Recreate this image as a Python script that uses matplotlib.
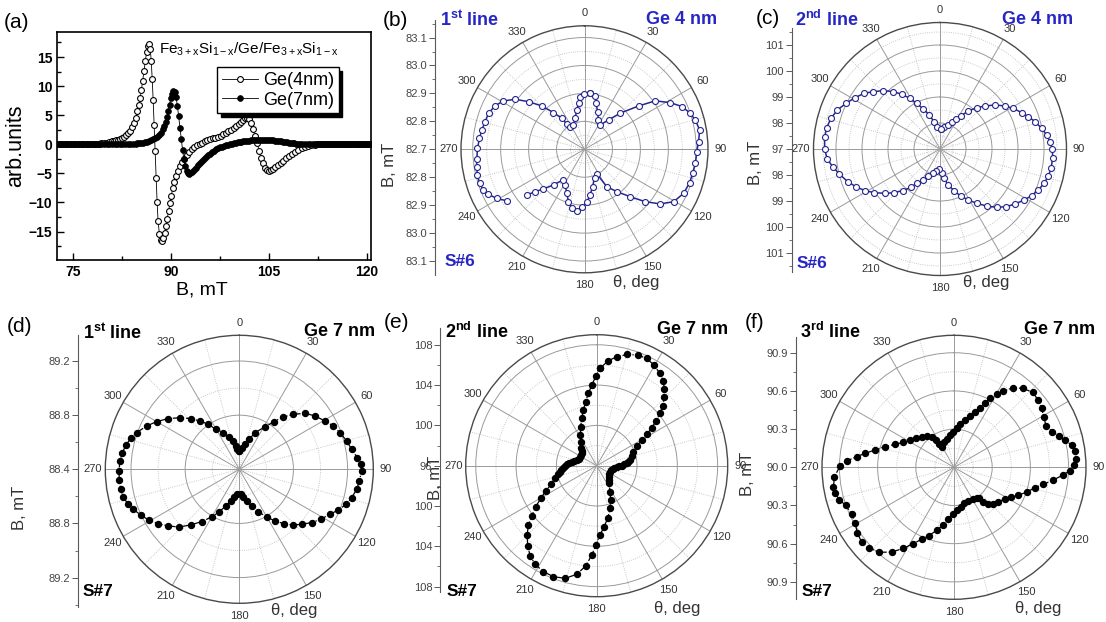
import numpy as np
import matplotlib
matplotlib.use('Agg')
import matplotlib.pyplot as plt
from matplotlib.ticker import MultipleLocator, FuncFormatter

plt.rcParams['font.family'] = ['Liberation Sans', 'DejaVu Sans']
plt.rcParams['mathtext.fontset'] = 'custom'
plt.rcParams['mathtext.rm'] = 'Liberation Sans'
plt.rcParams['mathtext.it'] = 'Liberation Sans:italic'
plt.rcParams['mathtext.bf'] = 'Liberation Sans:bold'

W, H = 1106, 622
BLUE_TXT = '#2626c6'
BLUE_SYM = '#25258e'

# ---- (a) FMR spectra: (B, mT ; signal, arb. units)
spectrum_4nm = [
    (72.6, 0), (73.0, 0), (73.4, 0), (73.8, 0), (74.2, 0), (74.6, 0), (75.0, 0), (75.4, 0),
    (75.8, 0), (76.2, 0), (76.6, 0), (77.0, 0), (77.4, 0), (77.8, 0.05), (78.2, 0.05),
    (78.6, 0.1), (79.0, 0.1), (79.4, 0.15), (79.8, 0.25), (80.2, 0.3), (80.6, 0.4),
    (81.0, 0.5), (81.3, 0.6), (81.6, 0.7), (81.9, 0.8), (82.2, 0.95), (82.5, 1.1),
    (82.8, 1.3), (83.1, 1.6), (83.4, 1.9), (83.7, 2.3), (84.0, 2.9), (84.3, 3.6),
    (84.6, 4.5), (84.9, 5.7), (85.1, 6.7), (85.3, 7.9), (85.5, 9.3), (85.7, 10.9),
    (85.9, 12.6), (86.1, 14.3), (86.3, 15.8), (86.5, 16.9), (86.7, 17.2), (86.85, 16.4),
    (87.0, 14.4), (87.15, 11.3), (87.3, 7.6), (87.45, 3.3), (87.6, -1.2), (87.75, -5.8),
    (87.9, -9.9), (88.05, -13.2), (88.25, -15.4), (88.45, -16.4), (88.65, -16.6),
    (88.85, -16.1), (89.05, -15.2), (89.25, -14.1), (89.45, -12.8), (89.65, -11.4),
    (89.85, -10.1), (90.05, -8.9), (90.3, -7.6), (90.55, -6.5), (90.8, -5.5), (91.1, -4.6),
    (91.4, -3.8), (91.7, -3.1), (92.0, -2.5), (92.4, -1.9), (92.8, -1.4), (93.2, -0.9),
    (93.6, -0.5), (94.0, -0.2), (94.4, 0.1), (94.8, 0.3), (95.2, 0.5), (95.6, 0.7),
    (96.0, 0.85), (96.4, 1.0), (96.8, 1.15), (97.2, 1.3), (97.6, 1.5), (98.0, 1.7),
    (98.4, 1.95), (98.8, 2.2), (99.2, 2.5), (99.6, 2.8), (100.0, 3.15), (100.4, 3.5),
    (100.8, 3.9), (101.1, 4.2), (101.4, 4.45), (101.7, 4.55), (102.0, 4.35), (102.3, 3.7),
    (102.6, 2.7), (102.9, 1.5), (103.2, 0.2), (103.5, -1.1), (103.8, -2.3), (104.1, -3.3),
    (104.4, -4.0), (104.7, -4.4), (105.0, -4.55), (105.3, -4.5), (105.6, -4.3),
    (106.0, -3.95), (106.4, -3.6), (106.8, -3.2), (107.2, -2.8), (107.6, -2.4),
    (108.0, -2.05), (108.5, -1.65), (109.0, -1.3), (109.5, -1.0), (110.0, -0.7),
    (110.5, -0.5), (111.0, -0.3), (111.5, -0.15), (112.0, -0.05), (112.4, 0), (112.8, 0),
    (113.2, 0), (113.6, 0), (114.0, 0), (114.4, 0), (114.8, 0), (115.2, 0), (115.6, 0),
    (116.0, 0), (116.4, 0), (116.8, 0), (117.2, 0), (117.6, 0), (118.0, 0), (118.4, 0),
    (118.8, 0), (119.2, 0), (119.6, 0), (120.0, 0), (120.4, 0),
]

spectrum_7nm = [
    (72.6, 0), (73.0, 0), (73.4, 0), (73.8, 0), (74.2, 0), (74.6, 0), (75.0, 0), (75.4, 0),
    (75.8, 0), (76.2, 0), (76.6, 0), (77.0, 0), (77.4, 0), (77.8, 0), (78.2, 0), (78.6, 0),
    (79.0, 0), (79.4, 0), (79.8, 0), (80.2, 0), (80.6, 0), (81.0, 0), (81.4, 0), (81.8, 0),
    (82.2, 0), (82.6, 0), (83.0, 0), (83.4, 0), (83.8, 0), (84.2, 0.05), (84.6, 0.1),
    (84.9, 0.15), (85.2, 0.2), (85.5, 0.25), (85.8, 0.3), (86.1, 0.35), (86.4, 0.45),
    (86.7, 0.55), (87.0, 0.7), (87.3, 0.85), (87.6, 1.05), (87.9, 1.3), (88.2, 1.6),
    (88.5, 2.0), (88.8, 2.6), (89.0, 3.1), (89.2, 3.8), (89.4, 4.7), (89.6, 5.7),
    (89.8, 6.8), (90.0, 7.9), (90.2, 8.7), (90.4, 9.2), (90.6, 9.0), (90.8, 8.1),
    (91.0, 6.6), (91.2, 4.8), (91.4, 2.8), (91.6, 0.9), (91.8, -1.0), (92.0, -2.6),
    (92.2, -3.8), (92.4, -4.6), (92.6, -5.0), (92.8, -5.1), (93.0, -5.0), (93.3, -4.75),
    (93.6, -4.4), (93.9, -4.0), (94.2, -3.6), (94.5, -3.2), (94.8, -2.85), (95.1, -2.5),
    (95.4, -2.2), (95.7, -1.9), (96.0, -1.6), (96.3, -1.35), (96.6, -1.1), (96.9, -0.9),
    (97.2, -0.7), (97.5, -0.55), (97.8, -0.4), (98.1, -0.3), (98.4, -0.2), (98.7, -0.1),
    (99.0, 0.0), (99.3, 0.1), (99.6, 0.2), (99.9, 0.3), (100.2, 0.35), (100.5, 0.4),
    (100.8, 0.45), (101.1, 0.5), (101.4, 0.55), (101.7, 0.6), (102.0, 0.6), (102.3, 0.65),
    (102.6, 0.65), (102.9, 0.7), (103.2, 0.7), (103.5, 0.7), (103.8, 0.7), (104.1, 0.7),
    (104.4, 0.7), (104.7, 0.7), (105.0, 0.7), (105.3, 0.65), (105.6, 0.65), (105.9, 0.6),
    (106.2, 0.6), (106.5, 0.55), (106.8, 0.5), (107.1, 0.45), (107.4, 0.4), (107.7, 0.35),
    (108.0, 0.3), (108.3, 0.25), (108.6, 0.2), (108.9, 0.15), (109.2, 0.1), (109.5, 0.1),
    (109.8, 0.05), (110.1, 0.05), (110.5, 0), (110.9, 0), (111.3, 0), (111.7, 0),
    (112.1, 0), (112.5, 0), (112.9, 0), (113.3, 0), (113.7, 0), (114.1, 0), (114.5, 0),
    (114.9, 0), (115.3, 0), (115.7, 0), (116.1, 0), (116.5, 0), (116.9, 0), (117.3, 0),
    (117.7, 0), (118.1, 0), (118.5, 0), (118.9, 0), (119.3, 0), (119.7, 0), (120.1, 0),
    (120.5, 0),
]

# ---- angular dependences of resonance field: (theta, deg ; B, mT)
nan = float('nan')
s6_line1 = [
    (5.8, 82.902), (11.4, 82.893), (14.2, 82.870), (19.0, 82.843), (25.5, 82.816),
    (32.8, 82.804), (39.3, 82.836), (44.7, 82.882), (51.3, 82.948), (55.6, 83.007),
    (61.4, 83.049), (66.3, 83.081), (71.2, 83.100), (75.2, 83.110), (80.5, 83.118),
    (86.2, 83.109), (91.2, 83.102), (97.2, 83.100), (102.5, 83.096), (107.6, 83.095),
    (114.0, 83.088), (120.5, 83.070), (125.8, 83.034), (130.8, 82.987), (136.0, 82.936),
    (142.6, 82.891), (149.1, 82.856), (153.4, 82.799), (161.0, 82.810), (167.9, 82.837),
    (172.9, 82.865), (177.4, 82.888), (182.6, 82.908), (187.1, 82.921), (192.1, 82.916),
    (197.0, 82.896), (201.9, 82.870), (208.5, 82.845), (215.2, 82.834), (221.0, 82.869),
    (226.0, 82.904), (229.4, 82.933), (231.6, 82.964), (234.0, nan), (236.5, 83.034),
    (240.8, 83.060), (244.9, 83.080), (248.0, 83.090), (252.0, 83.095), (256.5, 83.094),
    (260.9, 83.091), (264.8, 83.087), (270.5, 83.083), (276.0, 83.078), (280.7, 83.074),
    (285.6, 83.069), (290.6, 83.067), (295.9, 83.056), (300.8, 83.038), (305.8, 83.006),
    (310.4, 82.963), (315.4, 82.918), (319.8, 82.872), (323.8, 82.838), (325.1, 82.811),
    (327.7, 82.796), (335.7, 82.796), (343.2, 82.816), (349.0, 82.844), (352.6, 82.866),
    (355.2, 82.887), (359.7, 82.897),
]

s6_line2 = [
    (1.9, 97.756), (10.5, 97.847), (19.1, 97.977), (23.1, 98.143), (28.3, 98.296),
    (32.1, 98.497), (36.7, 98.823), (41.6, 99.125), (46.3, 99.394), (51.3, 99.709),
    (56.5, 99.998), (61.0, 100.225), (66.0, 100.438), (69.9, 100.618), (73.9, 100.802),
    (78.5, 100.990), (82.5, 101.137), (86.2, 101.240), (90.0, 101.320), (94.7, 101.349),
    (99.9, 101.333), (104.0, 101.294), (108.3, 101.213), (112.6, 101.097), (117.0, 100.956),
    (121.3, 100.780), (126.3, 100.577), (131.1, 100.371), (135.8, 100.128), (140.7, 99.833),
    (146.0, 99.521), (150.9, 99.244), (156.3, 98.974), (161.4, 98.691), (167.0, 98.421),
    (172.2, 98.138), (176.0, 97.913), (181.9, 97.782), (190.5, 97.847), (196.8, 97.977),
    (203.4, 98.131), (209.2, 98.366), (214.2, 98.597), (217.1, 98.849), (221.9, 99.152),
    (226.5, 99.440), (231.1, 99.717), (236.4, 100.033), (240.9, 100.300), (245.8, 100.541),
    (250.5, 100.767), (256.1, 100.990), (260.7, 101.184), (264.8, 101.351), (269.8, 101.436),
    (275.8, 101.459), (280.7, 101.436), (285.7, 101.355), (290.8, 101.224), (295.9, 101.019),
    (301.1, 100.819), (306.2, 100.623), (310.7, 100.382), (315.8, 100.128), (320.9, 99.843),
    (325.0, 99.568), (329.4, 99.264), (332.9, 98.972), (337.4, 98.667), (342.6, 98.371),
    (347.6, 98.077), (353.2, 97.865),
]

s7_line1 = [
    (0.0, 88.535), (8.1, 88.557), (12.8, 88.589), (18.4, 88.634), (23.1, 88.695),
    (31.2, 88.766), (36.0, 88.835), (40.0, 88.905), (44.5, 88.969), (49.5, 89.038),
    (54.8, 89.084), (60.6, 89.127), (65.3, 89.165), (70.0, 89.192), (75.2, 89.220),
    (79.9, 89.243), (84.4, 89.276), (87.6, 89.297), (90.8, 89.304), (95.6, 89.291),
    (99.7, 89.280), (104.2, 89.256), (108.2, 89.230), (112.3, 89.191), (116.4, 89.148),
    (121.6, 89.105), (126.4, 89.064), (131.4, 89.014), (135.9, 88.973), (140.6, 88.920),
    (145.4, 88.864), (150.2, 88.806), (155.8, 88.743), (161.4, 88.686), (167.0, 88.640),
    (171.8, 88.607), (177.0, 88.585), (184.6, 88.585), (190.2, 88.608), (194.7, 88.642),
    (200.0, 88.688), (205.3, 88.746), (210.1, 88.807), (215.7, 88.876), (221.2, 88.946),
    (226.1, 89.015), (231.4, 89.071), (236.1, 89.121), (240.6, 89.166), (245.2, 89.203),
    (249.3, 89.237), (252.9, 89.263), (256.6, 89.281), (260.4, 89.289), (264.8, 89.290),
    (269.2, 89.289), (274.0, 89.284), (278.1, 89.273), (282.1, 89.256), (285.9, 89.235),
    (289.7, 89.205), (295.0, 89.156), (300.0, 89.105), (305.5, 89.045), (311.0, 88.981),
    (316.2, 88.919), (320.9, 88.860), (325.4, 88.804), (329.7, 88.742), (336.4, 88.696),
    (342.8, 88.650), (348.0, 88.614), (351.9, 88.574), (354.3, 88.549),
]

s7_line2 = [
    (2.0, 105.66), (6.0, 106.44), (10.4, 106.99), (15.4, 107.45), (20.6, 107.73),
    (25.0, 107.74), (29.7, 107.49), (34.4, 107.10), (38.2, 106.69), (41.4, 106.14),
    (44.7, 105.54), (47.7, 104.85), (50.4, 104.15), (53.0, 103.37), (55.4, 102.63),
    (58.0, 101.85), (60.3, 101.14), (63.8, 100.50), (69.1, 99.89), (74.0, 99.61),
    (80.4, 99.35), (82.8, 99.17), (85.6, 98.98), (87.2, 98.75), (90.0, 98.48),
    (91.7, 98.21), (94.8, 97.99), (97.5, 97.77), (101.8, 97.62), (108.0, 97.49),
    (116.6, 97.48), (124.4, 97.52), (132.5, 97.61), (140.1, 97.85), (145.1, 98.14),
    (152.9, 98.90), (157.8, 99.68), (162.6, 100.43), (168.2, 101.34), (173.1, 102.09),
    (177.2, 102.88), (180.5, 103.87), (183.2, 104.87), (186.1, 105.97), (190.4, 106.96),
    (195.7, 107.61), (201.3, 107.82), (206.7, 107.77), (212.0, 107.54), (216.5, 107.11),
    (220.8, 106.48), (225.1, 105.75), (229.0, 104.98), (232.4, 104.13), (236.1, 103.29),
    (239.7, 102.43), (243.6, 101.65), (247.9, 100.92), (253.1, 100.32), (257.3, 99.90),
    (260.7, 99.69), (263.5, 99.53), (266.6, 99.38), (269.4, 99.17), (272.5, 98.98),
    (275.5, 98.76), (279.0, 98.51), (282.4, 98.30), (285.8, 98.06), (290.3, 97.90),
    (296.6, 97.85), (303.4, 97.86), (310.0, 97.90), (314.4, 98.08), (318.5, 98.29),
    (326.3, 98.86), (331.9, 99.44), (337.7, 100.18), (342.4, 100.93), (346.5, 101.68),
    (350.2, 102.44), (353.4, 103.22), (356.5, 104.02), (359.6, 104.93),
]

s7_line3 = [
    (3.9, 90.307), (7.9, 90.341), (13.1, 90.381), (17.3, 90.422), (20.7, 90.467),
    (23.5, 90.511), (25.8, 90.558), (27.6, 90.611), (30.3, 90.664), (32.9, 90.713),
    (36.7, 90.779), (41.3, 90.825), (46.4, 90.853), (51.4, 90.847), (56.1, 90.829),
    (60.6, 90.810), (65.6, 90.793), (70.1, 90.821), (73.4, 90.860), (76.2, 90.897),
    (79.3, 90.940), (82.3, 90.958), (86.1, 90.960), (88.9, 90.945), (91.6, 90.911),
    (94.0, 90.860), (97.3, 90.786), (100.8, 90.714), (104.1, 90.655), (109.0, 90.603),
    (113.3, 90.550), (117.9, 90.503), (122.1, 90.472), (127.8, 90.440), (132.7, 90.420),
    (137.1, 90.396), (139.5, 90.354), (140.7, 90.314), (143.2, 90.297), (149.5, 90.288),
    (156.7, 90.285), (164.5, 90.293), (170.4, 90.313), (175.5, 90.336), (180.8, 90.366),
    (186.3, 90.408), (190.5, 90.460), (195.4, 90.513), (199.9, 90.570), (204.2, 90.619),
    (208.0, 90.679), (212.0, 90.750), (216.3, 90.827), (221.3, 90.888), (226.4, 90.921),
    (230.9, 90.934), (235.7, 90.918), (240.5, 90.893), (245.3, 90.884), (250.5, 90.899),
    (254.1, 90.936), (257.7, 90.956), (260.9, 90.959), (265.5, 90.942), (270.7, 90.895),
    (273.4, 90.844), (276.3, 90.768), (278.9, 90.707), (282.4, 90.635), (286.7, 90.565),
    (291.3, 90.497), (296.3, 90.443), (301.8, 90.406), (307.3, 90.375), (313.5, 90.350),
    (318.9, 90.326), (323.6, 90.296), (326.6, 90.257), (327.5, 90.214), (329.2, 90.189),
    (338.2, 90.211), (345.5, 90.230), (352.9, 90.256), (358.9, 90.280),
]

fig = plt.figure(figsize=(W / 100, H / 100), dpi=100)


def px_box(left, top, width, height):
    return [left / W, 1 - (top + height) / H, width / W, height / H]


def ftext(x, y, s, **kw):
    kw.setdefault('va', 'center')
    fig.text(x / W, 1 - y / H, s, **kw)


# ---------------- (a) ----------------
ax = fig.add_axes(px_box(57, 32, 314, 228))
b4, y4 = zip(*spectrum_4nm)
b7, y7 = zip(*spectrum_7nm)
ax.plot(b4, y4, '-o', color='k', lw=0.6, ms=4.2, mfc='white', mec='k', mew=0.8,
        label='Ge(4nm)')
ax.plot(b7, y7, '-o', color='k', lw=0.6, ms=4.2, mfc='k', mec='k', mew=0.5,
        label='Ge(7nm)')
ax.set_xlim(72.6, 120.6)
ax.set_ylim(-19.9, 19.3)
ax.xaxis.set_major_locator(MultipleLocator(15))
ax.xaxis.set_minor_locator(MultipleLocator(7.5))
ax.yaxis.set_major_locator(MultipleLocator(5))
ax.yaxis.set_minor_locator(MultipleLocator(2.5))
ax.tick_params(which='both', direction='in', width=1, labelsize=10)
ax.tick_params(which='major', length=5)
ax.tick_params(which='minor', length=3)
for s in ax.spines.values():
    s.set_linewidth(1.2)
plt.setp(ax.get_xticklabels() + ax.get_yticklabels(), fontweight='bold')
ax.text(0.61, 0.925,
        r'Fe$_{\mathrm{3+x}}$Si$_{\mathrm{1-x}}$/Ge/Fe$_{\mathrm{3+x}}$Si$_{\mathrm{1-x}}$',
        transform=ax.transAxes, ha='center', va='center', fontsize=11)
ax.legend(loc='upper left', bbox_to_anchor=(0.51, 0.845), borderaxespad=0,
          fancybox=False, edgecolor='k', framealpha=1, fontsize=13,
          handlelength=2.0, handletextpad=0.3, borderpad=0.25, labelspacing=0.15,
          numpoints=1,
          shadow={'ox': 2.5, 'oy': -2.5, 'facecolor': 'k', 'edgecolor': 'k', 'alpha': 1})
ftext(4, 22, '(a)', fontsize=15)
ftext(16, 146, 'arb.units', fontsize=15.5, rotation=90, ha='center')
ftext(202, 290, 'B, mT', fontsize=14, ha='center')


# ---------------- polar panels ----------------
def polar_panel(data, cx, cy, R, rmin, rmax, major, fmt, axis_x, axis_top, axis_bot,
                filled):
    theta, field = zip(*data)
    pax = fig.add_axes(px_box(cx - R, cy - R, 2 * R, 2 * R), projection='polar')
    pax.set_theta_zero_location('N')
    pax.set_theta_direction(-1)
    pax.set_rlim(rmin, rmax)

    nsteps = int((rmax - rmin) / major + 1e-6)
    rings = [rmin + major * k for k in range(1, nsteps + 1) if rmin + major * k < rmax - 1e-9]
    pax.set_rgrids(rings, labels=[''] * len(rings))
    angles = list(range(0, 360, 30))
    pax.set_thetagrids(angles, labels=[str(a) for a in angles])
    pax.tick_params(axis='x', labelsize=8, labelcolor='#333333', pad=-1.5)
    pax.grid(True, color='#9a9a9a', lw=0.7, ls='-')
    pax.spines['polar'].set_color('#4a4a4a')
    pax.spines['polar'].set_linewidth(1.0)

    # dotted half-step rings and 15-degree spokes
    full = np.linspace(0, 2 * np.pi, 361)
    half = [rmin + major * (k + 0.5) for k in range(nsteps + 1) if rmin + major * (k + 0.5) < rmax]
    for r0 in half:
        pax.plot(full, np.full_like(full, r0), ls=':', color='#b8b8b8', lw=0.6, zorder=1)
    for a in range(15, 360, 30):
        pax.plot([np.radians(a)] * 2, [rmin, rmax], ls=':', color='#b8b8b8', lw=0.6, zorder=1)

    th = np.radians(theta)
    r = np.asarray(field, dtype=float)
    th = np.append(th, th[0] + 2 * np.pi)
    r = np.append(r, r[0])
    if filled:
        pax.plot(th, r, ls='-.', color='k', lw=0.9, marker='o', ms=4.3,
                 mfc='k', mec='k', zorder=3)
    else:
        pax.plot(th, r, ls='-', color=BLUE_SYM, lw=1.1, marker='o', ms=4.3,
                 mfc='white', mec=BLUE_SYM, mew=0.8, zorder=3)
    pax.set_rlim(rmin, rmax)

    # radial scale drawn as a vertical axis to the left of the circle
    ppu = R / (rmax - rmin)
    lax = fig.add_axes(px_box(axis_x, axis_top, 1, axis_bot - axis_top))
    lax.set_ylim(-(axis_bot - cy) / ppu, (cy - axis_top) / ppu)
    lax.patch.set_visible(False)
    for s in ('right', 'top', 'bottom'):
        lax.spines[s].set_visible(False)
    lax.spines['left'].set_color('#5a5a5a')
    lax.spines['left'].set_linewidth(0.8)
    lax.set_xticks([])
    lax.yaxis.set_major_locator(MultipleLocator(major))
    lax.yaxis.set_minor_locator(MultipleLocator(major / 2))
    lax.yaxis.set_major_formatter(FuncFormatter(lambda v, p: fmt.format(rmin + abs(v))))
    lax.tick_params(axis='y', which='major', length=4, width=0.7, color='#5a5a5a',
                    labelsize=8, labelcolor='#444444', pad=1.5)
    lax.tick_params(axis='y', which='minor', length=2.5, width=0.6, color='#5a5a5a')
    return pax


# (b) 1st line, Ge 4 nm
polar_panel(s6_line1, 584.5, 149.3, 123.5, 82.7, 83.142, 0.1, '{:.1f}', 435, 20, 275, False)
ftext(383, 21, '(b)', fontsize=15)
ftext(440, 20, r'1$^{\mathbf{st}}$ line', fontsize=13, fontweight='bold', color=BLUE_TXT)
ftext(717, 20, 'Ge 4 nm', fontsize=13, fontweight='bold', color=BLUE_TXT, ha='right')
ftext(445, 262, 'S#6', fontsize=12.5, fontweight='bold', color=BLUE_TXT)
ftext(389, 165, 'B, mT', fontsize=12, rotation=90, ha='center', color='#333333')
ftext(636, 283, 'θ, deg', fontsize=12, ha='center', color='#333333')

# (c) 2nd line, Ge 4 nm
polar_panel(s6_line2, 940, 149, 126.5, 97.0, 101.865, 1.0, '{:.0f}', 791.7, 28, 272, False)
ftext(756, 19, '(c)', fontsize=15)
ftext(795, 20, r'2$^{\mathbf{nd}}$ line', fontsize=13, fontweight='bold', color=BLUE_TXT)
ftext(1073, 20, 'Ge 4 nm', fontsize=13, fontweight='bold', color=BLUE_TXT, ha='right')
ftext(797, 264, 'S#6', fontsize=12.5, fontweight='bold', color=BLUE_TXT)
ftext(755, 163, 'B, mT', fontsize=12, rotation=90, ha='center', color='#333333')
ftext(986, 283, 'θ, deg', fontsize=12, ha='center', color='#333333')

# (d) 1st line, Ge 7 nm
polar_panel(s7_line1, 239.3, 469.3, 134, 88.4, 89.39, 0.4, '{:.1f}', 78, 335, 607, True)
ftext(7, 326, '(d)', fontsize=15)
ftext(83, 333, r'1$^{\mathbf{st}}$ line', fontsize=13, fontweight='bold', color='k')
ftext(375, 332, 'Ge 7 nm', fontsize=13, fontweight='bold', color='k', ha='right')
ftext(83, 592, 'S#7', fontsize=12.5, fontweight='bold', color='k')
ftext(20, 508, 'B, mT', fontsize=12, rotation=90, ha='center', color='#333333')
ftext(294, 610, 'θ, deg', fontsize=12, ha='center', color='#333333')

# (e) 2nd line, Ge 7 nm
polar_panel(s7_line2, 596.7, 465.7, 131, 96.0, 109.0, 4.0, '{:.0f}', 440, 328, 592, True)
ftext(384, 323, '(e)', fontsize=15)
ftext(445, 332, r'2$^{\mathbf{nd}}$ line', fontsize=13, fontweight='bold', color='k')
ftext(728, 330, 'Ge 7 nm', fontsize=13, fontweight='bold', color='k', ha='right')
ftext(447, 592, 'S#7', fontsize=12.5, fontweight='bold', color='k')
ftext(436, 478, 'B, mT', fontsize=12, rotation=90, ha='center', color='#333333')
ftext(677, 608, 'θ, deg', fontsize=12, ha='center', color='#333333')

# (f) 3rd line, Ge 7 nm
polar_panel(s7_line3, 954, 467.3, 132, 90.0, 91.037, 0.3, '{:.1f}', 796, 337, 599, True)
ftext(745, 323, '(f)', fontsize=15)
ftext(800, 332, r'3$^{\mathbf{rd}}$ line', fontsize=13, fontweight='bold', color='k')
ftext(1095, 330, 'Ge 7 nm', fontsize=13, fontweight='bold', color='k', ha='right')
ftext(802, 592, 'S#7', fontsize=12.5, fontweight='bold', color='k')
ftext(747, 474, 'B, mT', fontsize=12, rotation=90, ha='center', color='#333333')
ftext(1038, 608, 'θ, deg', fontsize=12, ha='center', color='#333333')

fig.savefig('out.png', dpi=100, facecolor='white')
